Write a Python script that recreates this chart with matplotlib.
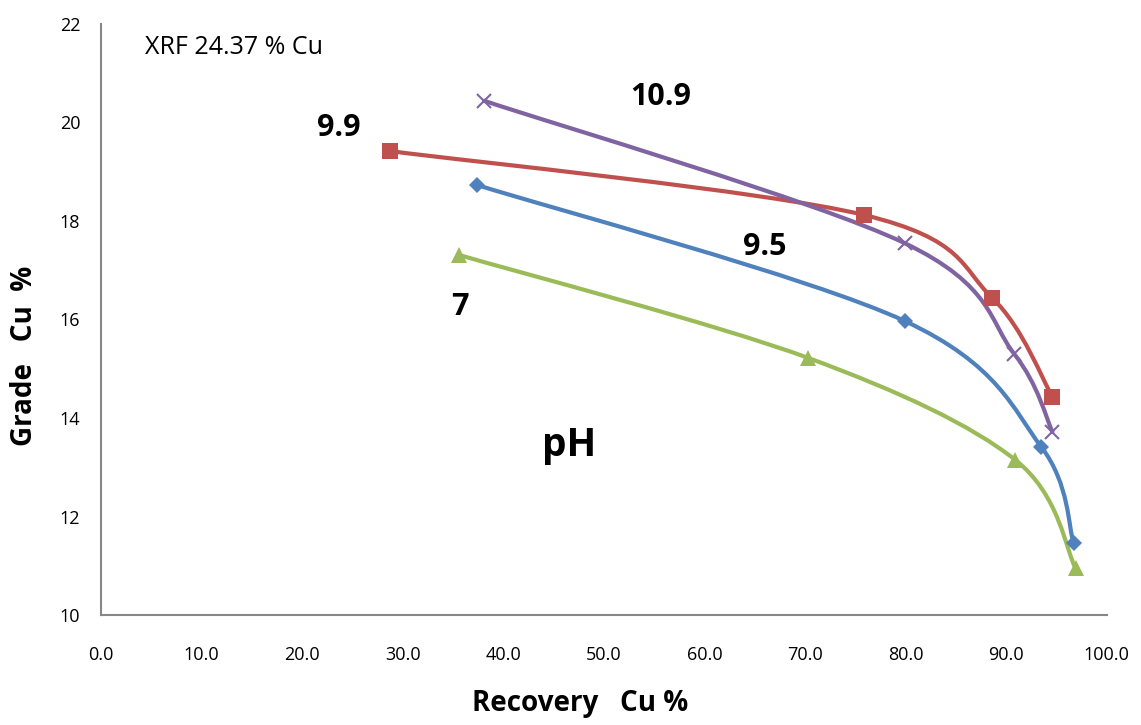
import matplotlib
matplotlib.use("Agg")
import matplotlib.pyplot as plt
from matplotlib.path import Path
from matplotlib.patches import PathPatch
import numpy as np

plt.rcParams['font.family'] = ['Open Sans', 'DejaVu Sans']

# Recovery Cu % / Grade Cu % for each pH
rec_ph99 = [28.7, 75.9, 88.6, 94.6]
grade_ph99 = [19.42, 18.12, 16.44, 14.43]

rec_ph109 = [38.1, 79.9, 90.8, 94.6]
grade_ph109 = [20.44, 17.55, 15.30, 13.72]

rec_ph95 = [37.4, 79.9, 93.5, 96.7]
grade_ph95 = [18.73, 15.97, 13.41, 11.46]

rec_ph7 = [35.6, 70.3, 90.9, 96.9]
grade_ph7 = [17.31, 15.22, 13.15, 10.95]

x_ticks = [0, 10, 20, 30, 40, 50, 60, 70, 80, 90, 100]
y_ticks = [10, 12, 14, 16, 18, 20, 22]


def smooth_path(xs, ys):
    # bezier curve through the points, like excel's smoothed line
    pts = np.column_stack([xs, ys])
    n = len(pts)
    verts = [pts[0]]
    codes = [Path.MOVETO]
    for i in range(n - 1):
        p0 = pts[i - 1] if i > 0 else pts[i]
        p1 = pts[i]
        p2 = pts[i + 1]
        p3 = pts[i + 2] if i + 2 < n else pts[i + 1]
        c1 = p1 + (p2 - p0) / 6.0
        c2 = p2 - (p3 - p1) / 6.0
        verts += [c1, c2, p2]
        codes += [Path.CURVE4] * 3
    return Path(verts, codes)


fig = plt.figure(figsize=(11.41, 7.25), dpi=100)
ax = fig.add_axes([0.0885, 0.1517, 0.8815, 0.8153])

series = [
    (rec_ph99, grade_ph99, '#C0504D', 's', 11),
    (rec_ph109, grade_ph109, '#8064A2', 'x', 10),
    (rec_ph95, grade_ph95, '#4F81BD', 'D', 8),
    (rec_ph7, grade_ph7, '#9BBB59', '^', 11),
]

for xs, ys, col, mk, ms in series:
    ax.add_patch(PathPatch(smooth_path(xs, ys), facecolor='none',
                           edgecolor=col, lw=3, capstyle='round'))
    if mk == 'x':
        ax.plot(xs, ys, linestyle='none', marker=mk, color=col,
                markersize=ms, markeredgewidth=1.5)
    else:
        ax.plot(xs, ys, linestyle='none', marker=mk, color=col,
                markersize=ms, markeredgewidth=0)

ax.set_xlim(0, 100)
ax.set_ylim(10, 22)
ax.set_xticks(x_ticks)
ax.set_xticklabels([f'{v:.1f}' for v in x_ticks], fontsize=13)
ax.set_yticks(y_ticks)
ax.set_yticklabels([str(v) for v in y_ticks], fontsize=13)
ax.tick_params(length=0)
ax.tick_params(axis='x', pad=22)
ax.tick_params(axis='y', pad=15)

for s in ['top', 'right']:
    ax.spines[s].set_visible(False)
for s in ['left', 'bottom']:
    ax.spines[s].set_color('#878787')
    ax.spines[s].set_linewidth(1.5)

# axis titles placed in figure pixels
fig.text(580 / 1141, 1 - 703 / 725, 'Recovery   Cu %', fontsize=20,
         fontweight='bold', ha='center', va='center')
fig.text(25 / 1141, 1 - 356 / 725, 'Grade   Cu  %', fontsize=20,
         fontweight='bold', ha='center', va='center', rotation=90)

ax.text(4.4, 21.53, 'XRF 24.37 % Cu', fontsize=18, va='center', ha='left')
ax.text(23.6, 19.89, '9.9', fontsize=22, fontweight='bold', va='center', ha='center')
ax.text(55.6, 20.52, '10.9', fontsize=22, fontweight='bold', va='center', ha='center')
ax.text(66.0, 17.47, '9.5', fontsize=22, fontweight='bold', va='center', ha='center')
ax.text(35.7, 16.25, '7', fontsize=22, fontweight='bold', va='center', ha='center')
ax.text(46.5, 13.45, 'pH', fontsize=28, fontweight='bold', va='center', ha='center')

fig.savefig('out.png', dpi=100)
